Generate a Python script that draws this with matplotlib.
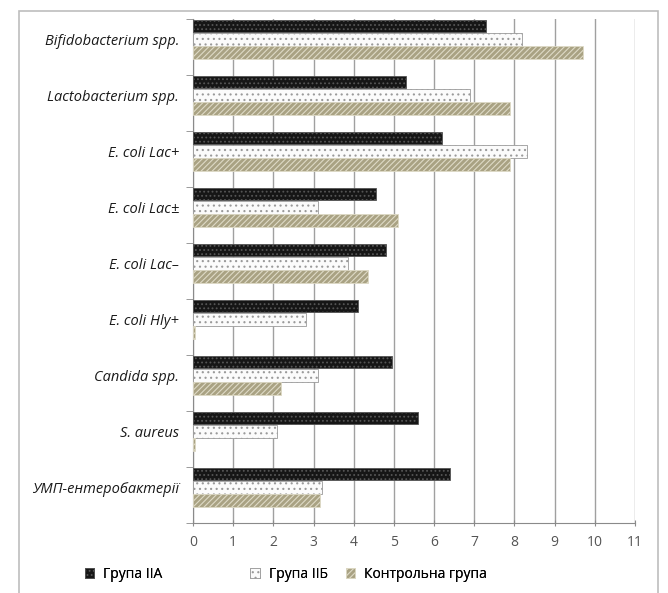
import numpy as np
import matplotlib
matplotlib.use("Agg")
import matplotlib.pyplot as plt
from matplotlib.patches import Rectangle

# -------------------------------------------------------------------
# Data
# -------------------------------------------------------------------
categories = [
    "Bifidobacterium spp.",
    "Lactobacterium spp.",
    "E. coli Lac+",
    "E. coli Lac\u00b1",
    "E. coli Lac\u2013",
    "E. coli Hly+",
    "Candida spp.",
    "S. aureus",
    "УМП-ентеробактерії",
]
group_2a = [7.3, 5.3, 6.2, 4.55, 4.8, 4.1, 4.95, 5.6, 6.4]
group_2b = [8.2, 6.9, 8.3, 3.1, 3.85, 2.8, 3.1, 2.1, 3.2]
control = [9.7, 7.9, 7.9, 5.1, 4.35, 0.05, 2.2, 0.05, 3.15]
series_names = ["Група IIА", "Група IIБ", "Контрольна група"]

# -------------------------------------------------------------------
# Plot
# -------------------------------------------------------------------
plt.rcParams['font.family'] = ['Open Sans', 'DejaVu Sans']
plt.rcParams['hatch.linewidth'] = 0.8

fig = plt.figure(figsize=(6.68, 5.93), dpi=100)
ax = fig.add_axes([193 / 668, 1 - 523 / 593, (635 - 193) / 668, (523 - 19) / 593])

# outer frame of the chart
fig.patches.append(Rectangle((19 / 668, -0.01), (658 - 19) / 668, 1 - 11 / 593 + 0.01,
                             transform=fig.transFigure, fill=False,
                             edgecolor='#bdbdbd', linewidth=1.2))

band = np.arange(len(categories))
bar_h = 0.22
offsets = [0.13, 0.365, 0.60]

styles = [
    dict(color='#161616', edgecolor='#555555', hatch='....'),
    dict(color='#fbfbfb', edgecolor='#9a9a9a', hatch='...'),
    dict(color='#a9a283', edgecolor='#dedac6', hatch='//////'),
]
handles = []
for vals, off, st, name in zip([group_2a, group_2b, control], offsets, styles, series_names):
    b = ax.barh(band + off, vals, height=bar_h, color=st['color'],
                edgecolor=st['edgecolor'], hatch=st['hatch'], linewidth=0.6,
                label=name, zorder=3)
    handles.append(b)

ax.set_xlim(0, 11)
ax.set_ylim(len(categories), 0)
ax.set_xticks(range(0, 12))
ax.tick_params(axis='x', colors='#8a8a8a', labelcolor='#555555', labelsize=10,
               length=5, direction='inout', pad=6)

ax.set_yticks(band + 0.36)
ax.set_yticklabels(categories, fontsize=10.5, style='italic', color='#1a1a1a')
ax.set_yticks(np.arange(len(categories) + 1), minor=True)
ax.tick_params(axis='y', which='major', length=0, pad=10)
ax.tick_params(axis='y', which='minor', length=5, color='#8a8a8a')

ax.grid(axis='x', color='#a0a0a0', linewidth=1.0, zorder=0)
for side in ['top', 'right']:
    ax.spines[side].set_visible(False)
ax.spines['left'].set_color('#8a8a8a')
ax.spines['bottom'].set_color('#8a8a8a')

# legend entries spaced as in the reference
legend_x = [72, 238, 333]
for h, name, lx in zip(handles, series_names, legend_x):
    lg = fig.legend([h], [name], loc='center left',
                    bbox_to_anchor=(lx / 668, 1 - 574 / 593), frameon=False,
                    handlelength=0.7, handleheight=0.7, handletextpad=0.6,
                    fontsize=10)
    fig.add_artist(lg)

fig.savefig("out.png", dpi=100)
